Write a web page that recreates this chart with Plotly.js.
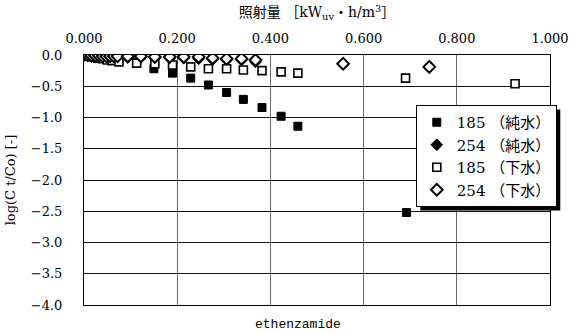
<!DOCTYPE html>
<html>
<head>
<meta charset="utf-8">
<script src="https://cdn.plot.ly/plotly-3.0.1.min.js"></script>
<style>html,body{margin:0;padding:0;background:#fff;}#chart{width:570px;height:333px;}</style>
</head>
<body>
<div id="chart"></div>
<script>
// ---- data ----
var seriesNames = ["185 （純水）", "254 （純水）", "185 （下水）", "254 （下水）"];

var x185pure = [0, 0.008, 0.016, 0.024, 0.032, 0.040, 0.048, 0.075, 0.113, 0.150, 0.190, 0.229, 0.267, 0.306, 0.342, 0.382, 0.423, 0.459, 0.692];
var y185pure = [0, -0.01, -0.02, -0.03, -0.03, -0.04, -0.05, -0.08, -0.12, -0.22, -0.29, -0.37, -0.48, -0.60, -0.71, -0.84, -0.98, -1.14, -2.52];

var x254pure = [0, 0.008, 0.016, 0.024, 0.032, 0.040, 0.048, 0.056, 0.064, 0.094, 0.122, 0.152, 0.184, 0.214, 0.246, 0.276, 0.306, 0.338, 0.368];
var y254pure = [0, -0.01, -0.01, -0.02, -0.02, -0.02, -0.03, -0.03, -0.03, -0.04, -0.04, -0.05, -0.05, -0.05, -0.06, -0.07, -0.08, -0.08, -0.11];

var x185sew = [0, 0.010, 0.020, 0.030, 0.040, 0.050, 0.060, 0.075, 0.113, 0.152, 0.190, 0.229, 0.267, 0.306, 0.342, 0.382, 0.423, 0.459, 0.690, 0.925];
var y185sew = [0, -0.02, -0.03, -0.05, -0.06, -0.08, -0.09, -0.11, -0.13, -0.14, -0.16, -0.19, -0.22, -0.22, -0.24, -0.25, -0.27, -0.29, -0.37, -0.46];

var x254sew = [0, 0.008, 0.016, 0.024, 0.032, 0.040, 0.048, 0.056, 0.064, 0.072, 0.094, 0.122, 0.152, 0.184, 0.214, 0.246, 0.276, 0.306, 0.338, 0.368, 0.556, 0.741];
var y254sew = [0, 0, -0.01, -0.01, -0.01, -0.02, -0.02, -0.02, -0.02, -0.02, -0.02, -0.02, -0.03, -0.03, -0.03, -0.03, -0.05, -0.06, -0.06, -0.08, -0.14, -0.19];

var xTickVals = [0, 0.2, 0.4, 0.6, 0.8, 1.0];
var yTickVals = [0, -0.5, -1.0, -1.5, -2.0, -2.5, -3.0, -3.5, -4.0];

var xTitle = "照射量 ［kW<sub>uv</sub>・h/m<sup>3</sup>］";
var yTitle = "log(C t/Co) [-]";
var compound = "ethenzamide";

// ---- chart ----
var FONT = "'DejaVu Serif', 'Liberation Serif', 'Noto Sans CJK JP', serif";

var traces = [
  {x: x185pure, y: y185pure, name: seriesNames[0], type: "scatter", mode: "markers",
   marker: {symbol: "square", size: 8, color: "#000", line: {color: "#000", width: 1}}},
  {x: x254pure, y: y254pure, name: seriesNames[1], type: "scatter", mode: "markers",
   marker: {symbol: "diamond", size: 9, color: "#000", line: {color: "#000", width: 1}}},
  {x: x185sew, y: y185sew, name: seriesNames[2], type: "scatter", mode: "markers",
   marker: {symbol: "square", size: 8, color: "#fff", line: {color: "#000", width: 1.6}}},
  {x: x254sew, y: y254sew, name: seriesNames[3], type: "scatter", mode: "markers",
   marker: {symbol: "diamond", size: 9, color: "#fff", line: {color: "#000", width: 2}}}
];

var layout = {
  width: 570, height: 333,
  margin: {l: 84, r: 20, t: 55, b: 28, pad: 0},
  paper_bgcolor: "#fff", plot_bgcolor: "#fff",
  font: {family: FONT, size: 13, color: "#000"},
  showlegend: true,
  legend: {x: 0.712, y: 0.80, xanchor: "left", yanchor: "top",
           bgcolor: "#fff", bordercolor: "#000", borderwidth: 1,
           font: {family: FONT, size: 15, color: "#000"},
           itemwidth: 30, tracegroupgap: 0},
  xaxis: {range: [0, 1], side: "top", tickvals: xTickVals, tickformat: ".3f",
          showgrid: true, gridcolor: "#6a6a6a", gridwidth: 1,
          showline: true, mirror: true, linecolor: "#000", linewidth: 1,
          zeroline: false, ticks: "", ticklabelstandoff: 6,
          tickfont: {family: FONT, size: 13},
          title: {text: xTitle, font: {family: FONT, size: 14}, standoff: 9}},
  yaxis: {range: [-4, 0], tickvals: yTickVals, tickformat: ".1f",
          showgrid: true, gridcolor: "#111", gridwidth: 1,
          showline: true, mirror: true, linecolor: "#000", linewidth: 1,
          zeroline: false, ticks: "", ticklabelstandoff: 18,
          tickfont: {family: FONT, size: 13},
          title: {text: yTitle, font: {family: FONT, size: 13}, standoff: 12}},
  annotations: [
    {text: compound, xref: "paper", yref: "paper", x: 0.46, y: -0.076,
     xanchor: "center", yanchor: "middle", showarrow: false, borderpad: 0,
     font: {family: "'Liberation Mono', 'DejaVu Sans Mono', monospace", size: 13}}
  ]
};

Plotly.newPlot("chart", traces, layout, {displayModeBar: false, staticPlot: true}).then(function (gd) {
  // legend drop-shadow
  var bg = gd.querySelector(".legend .bg");
  if (!bg) return;
  var r = bg.getBoundingClientRect();
  var fl = gd._fullLayout, sz = fl._size;
  var px2x = function (px) { return (px - sz.l) / sz.w; };
  var px2y = function (py) { return 1 - (py - sz.t) / sz.h; };
  var off = 4;
  Plotly.relayout(gd, {shapes: [{
    type: "rect", xref: "paper", yref: "paper", layer: "above",
    x0: px2x(r.left + off), x1: px2x(r.right + off),
    y0: px2y(r.bottom + off), y1: px2y(r.top + off),
    fillcolor: "#000", line: {width: 0}
  }]});
});
</script>
</body>
</html>
